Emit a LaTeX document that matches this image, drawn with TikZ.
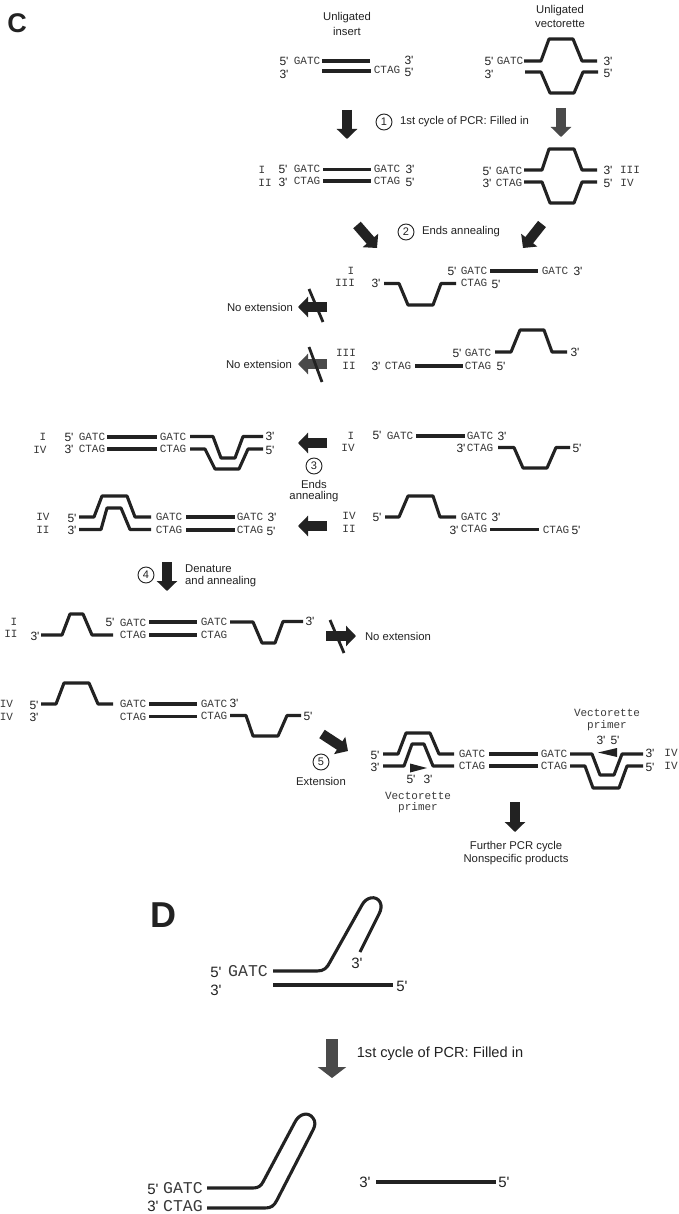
\documentclass[tikz,border=0pt]{standalone}
\usepackage{fontspec}
\usetikzlibrary{arrows.meta}
\newfontfamily\lsans{Liberation Sans}
\newfontfamily\lmono{Liberation Mono}
\definecolor{ink}{HTML}{222222}
\definecolor{monoink}{HTML}{3A3A3A}
\definecolor{midink}{HTML}{4A4A4A}
\newcounter{lab}
\tikzset{
  sans/.style={inner sep=0pt,text=ink,font=\lsans\fontsize{11.3}{13}\selectfont},
  prime/.style={inner sep=0pt,text=ink,font=\lsans\fontsize{12}{13}\selectfont},
  mono/.style={inner sep=0pt,text=monoink,font=\lmono\fontsize{11}{13}\selectfont},
  big/.style={inner sep=0pt,text=ink,font=\lsans\fontsize{14.6}{16}\selectfont},
  bigprime/.style={inner sep=0pt,text=ink,font=\lsans\fontsize{15}{16}\selectfont},
  bigmono/.style={inner sep=0pt,text=monoink,font=\lmono\fontsize{16.5}{18}\selectfont},
  panel/.style={inner sep=0pt,text=ink},
  numcirc/.style={circle,draw=ink,line width=0.9pt,minimum size=16pt,inner sep=0pt,text=ink,font=\lsans\fontsize{11}{13}\selectfont},
  strand/.style={draw=ink,line width=3.1pt,line join=round,line cap=butt},
  blockarrow/.style={draw=ink,line width=10pt,-{Triangle[length=10pt,width=20pt]}},
  greyarrow/.style={draw=midink,line width=10pt,-{Triangle[length=10pt,width=20pt]}},
  bigarrow/.style={draw=midink,line width=12.5pt,-{Triangle[length=11pt,width=28pt]}},
  crossout/.style={draw=ink,line width=2.8pt},
  primer/.style={fill=ink,draw=none}
}
\newcommand\T[4]{\stepcounter{lab}\node[#1] (t\thelab) at (#2,#3) {#4};}
\newcommand\SL[3]{\T{sans}{#1}{#2}{#3}}
\newcommand\PR[3]{\T{prime}{#1}{#2}{#3}}
\newcommand\MO[3]{\T{mono}{#1}{#2}{#3}}
\begin{document}
\begin{tikzpicture}[x=1pt,y=-1pt]
\useasboundingbox (0,0) rectangle (679,1214);
\fill[white] (0,0) rectangle (679,1214);

% Panel C
\node[panel,font=\lsans\bfseries\fontsize{27}{30}\selectfont] (panelC) at (17,23) {C};

% Unligated insert
\SL{347}{18}{Unligated}\SL{347}{31}{insert}
\PR{284}{61}{5'}\MO{307}{61}{GATC}\PR{409}{60}{3'}
\PR{284}{74}{3'}\MO{387}{70}{CTAG}\PR{409}{72}{5'}
\draw[strand] (322,61) -- (370,61);
\draw[strand] (322,71) -- (371,71);

% Unligated vectorette
\SL{560}{11}{Unligated}\SL{560}{24}{vectorette}
\PR{489}{61}{5'}\MO{510}{61}{GATC}\PR{608}{61}{3'}
\PR{489}{74}{3'}\PR{608}{73}{5'}
\draw[strand] (524,61) -- (541,61) -- (549,39) -- (573,39) -- (582,61) -- (597,61);
\draw[strand] (525,72) -- (541,72) -- (550,93) -- (574,93) -- (583,72) -- (598,72);

% Step 1
\draw[blockarrow] (347,110) -- (347,139);
\draw[greyarrow] (561,108) -- (561,137);
\node[numcirc] (c1) at (384,122) {1};
\SL{464.5}{122}{1st cycle of PCR: Filled in}

% Filled-in products
\MO{262}{170}{I}\MO{265}{183}{II}
\PR{283}{169}{5'}\MO{307}{169}{GATC}\MO{387}{169}{GATC}\PR{410}{169}{3'}
\PR{283}{182}{3'}\MO{307}{181}{CTAG}\MO{387}{181}{CTAG}\PR{410}{182}{5'}
\draw[strand] (323,169.5) -- (371,169.5);
\draw[strand] (323,181) -- (371,181);
\PR{487}{171}{5'}\MO{509}{171}{GATC}\PR{608}{170}{3'}\MO{630}{170}{III}
\PR{487}{183}{3'}\MO{509}{183}{CTAG}\PR{608}{183}{5'}\MO{627}{183}{IV}
\draw[strand] (524,170) -- (542,170) -- (549,149) -- (574,149) -- (582,170) -- (597,170);
\draw[strand] (524,182) -- (542,182) -- (550,203) -- (574,203) -- (582,182) -- (597,182);

% Step 2
\draw[blockarrow] (357,225) -- (377,248);
\draw[blockarrow] (542,224) -- (523,248);
\node[numcirc] (c2) at (406,232) {2};
\SL{461}{232}{Ends annealing}

% I / III
\MO{351}{271}{I}\MO{345}{283}{III}
\PR{376}{283}{3'}\MO{474}{283}{CTAG}\PR{496}{284}{5'}
\PR{452}{271}{5'}\MO{474}{271}{GATC}\MO{555}{271}{GATC}\PR{578}{271}{3'}
\draw[strand] (384,283.5) -- (399,283.5) -- (408,305) -- (433,305) -- (441,283.5) -- (456,283.5);
\draw[strand] (490,271) -- (538,271);
\SL{260}{307}{No extension}
\draw[blockarrow] (327,307) -- (298,307);
\draw[crossout] (309,289) -- (323,322);

% III / II
\MO{346}{353}{III}\MO{349}{366}{II}
\PR{376}{366}{3'}\MO{398}{366}{CTAG}\MO{478}{366}{CTAG}\PR{501}{366}{5'}
\PR{457}{353}{5'}\MO{478}{353}{GATC}\PR{575}{352}{3'}
\draw[strand] (415,366) -- (463,366);
\draw[strand] (495,352) -- (511,352) -- (520,330) -- (544,330) -- (552,352) -- (567,352);
\SL{259}{364}{No extension}
\draw[greyarrow] (327,364) -- (298,364);
\draw[crossout] (309,347) -- (322,382);

% Step 3 right I / IV
\MO{351}{436}{I}\MO{348}{448}{IV}
\PR{377}{435}{5'}\MO{400}{436}{GATC}\MO{480}{436}{GATC}\PR{502}{436}{3'}
\PR{461}{448}{3'}\MO{480}{448}{CTAG}\PR{577}{448}{5'}
\draw[strand] (416,436) -- (465,436);
\draw[strand] (498,447.5) -- (514,447.5) -- (523,468) -- (547,468) -- (556,447.5) -- (570,447.5);

% Step 3 left I / IV
\MO{43}{437}{I}\MO{40}{450}{IV}
\PR{69}{437}{5'}\MO{92}{437}{GATC}\MO{173}{437}{GATC}\PR{270}{436}{3'}
\PR{69}{449}{3'}\MO{92}{449}{CTAG}\MO{173}{449}{CTAG}\PR{270}{450}{5'}
\draw[strand] (107,437) -- (157,437);
\draw[strand] (107,449) -- (157,449);
\draw[strand] (190,436.5) -- (213,436.5) -- (221,458) -- (235,458) -- (243,436.5) -- (263,436.5);
\draw[strand] (190,449) -- (205,449) -- (215,469) -- (239,469) -- (248,449) -- (263,449);

\draw[blockarrow] (327,443) -- (298,443);
\node[numcirc] (c3) at (314,466) {3};
\SL{314}{484}{Ends}\SL{314}{497}{annealing}
\draw[blockarrow] (327,526) -- (298,526);

% Step 3 right IV / II
\MO{349}{516}{IV}\MO{349}{529}{II}
\PR{377}{517}{5'}\MO{474}{516.5}{GATC}\PR{496}{517}{3'}
\PR{454}{530}{3'}\MO{474}{529}{CTAG}\MO{556}{530}{CTAG}\PR{576}{530}{5'}
\draw[strand] (385,517) -- (399,517) -- (408,496) -- (433,496) -- (440,517) -- (456,517);
\draw[strand] (490,529.5) -- (539,529.5);

% Step 3 left IV / II
\MO{43}{517}{IV}\MO{43}{530}{II}
\PR{72}{518}{5'}\MO{169}{517}{GATC}\MO{250}{517}{GATC}\PR{272}{517}{3'}
\PR{72}{530}{3'}\MO{169}{530}{CTAG}\MO{250}{530}{CTAG}\PR{271}{531}{5'}
\draw[strand] (79,517) -- (94,517) -- (102,496) -- (127,496) -- (135,517) -- (151,517);
\draw[strand] (79,529.5) -- (101,529.5) -- (107,508) -- (121,508) -- (130,529.5) -- (151,529.5);
\draw[strand] (186,517) -- (235,517);
\draw[strand] (186,530) -- (235,530);

% Step 4
\node[numcirc] (c4) at (146,575) {4};
\draw[blockarrow] (167,562) -- (167,591);
\node[sans,anchor=west] (den1) at (185,569) {Denature};
\node[sans,anchor=west] (den2) at (185,582) {and annealing};

% I / II after denature
\MO{14}{622}{I}\MO{11}{634}{II}
\PR{35}{636}{3'}\PR{110}{622}{5'}\MO{133}{623}{GATC}\MO{133}{635}{CTAG}
\MO{214}{622}{GATC}\MO{214}{635}{CTAG}\PR{310}{621}{3'}
\draw[strand] (41,635) -- (62,635) -- (70,614) -- (83,614) -- (92,635) -- (113,635);
\draw[strand] (149,622) -- (197,622);
\draw[strand] (149,635) -- (197,635);
\draw[strand] (230,622) -- (253,622) -- (262,643) -- (275,643) -- (283,621.5) -- (303,621.5);
\draw[blockarrow] (326,636) -- (356,636);
\draw[crossout] (330,620) -- (344,653);
\SL{398}{636}{No extension}

% IV / IV after denature
\MO{6.5}{704}{IV}\MO{6.5}{717}{IV}
\PR{34}{705}{5'}\PR{34}{717}{3'}
\MO{133}{704}{GATC}\MO{214}{704}{GATC}\PR{234}{703}{3'}
\MO{133}{717}{CTAG}\MO{214}{716}{CTAG}\PR{308}{716}{5'}
\draw[strand] (41,704) -- (56,704) -- (64,683) -- (89,683) -- (98,704) -- (113,704);
\draw[strand] (149,704) -- (197,704);
\draw[strand] (149,716.5) -- (197,716.5);
\draw[strand] (230,715.5) -- (246,715.5) -- (253,736) -- (278,736) -- (287,715.5) -- (301,715.5);

% Step 5
\draw[blockarrow] (322,734) -- (348,751);
\node[numcirc] (c5) at (321,762) {5};
\SL{321}{781}{Extension}

% Extension product
\PR{375}{755}{5'}\PR{375}{767}{3'}
\MO{472}{754}{GATC}\MO{472}{766}{CTAG}\MO{554}{754}{GATC}\MO{554}{766}{CTAG}
\PR{650}{753}{3'}\PR{650}{767}{5'}\MO{671}{753}{IV}\MO{671}{766}{IV}
\draw[strand] (383,754) -- (398,754) -- (406,733) -- (430,733) -- (439,754) -- (454,754);
\draw[strand] (383,766) -- (404,766) -- (412,744) -- (424,744) -- (433,766) -- (454,766);
\draw[strand] (489,754) -- (538,754);
\draw[strand] (489,766) -- (538,766);
\draw[strand] (570,754) -- (592,754) -- (600,775) -- (614,775) -- (622,754) -- (643,754);
\draw[strand] (570,766) -- (585,766) -- (593,788) -- (619,788) -- (627,766) -- (643,766);
\fill[primer] (410,763.5) -- (427,768) -- (410,772.5) -- cycle;
\fill[primer] (617,748) -- (598,752.5) -- (617,757) -- cycle;
\PR{411}{779}{5'}\PR{428}{779}{3'}
\MO{418}{796}{Vectorette}\MO{418}{808}{primer}
\MO{607}{713}{Vectorette}\MO{607}{726}{primer}
\PR{601}{740}{3'}\PR{615}{740}{5'}
\draw[blockarrow] (515,802) -- (515,832);
\SL{516}{847}{Further PCR cycle}\SL{516}{860}{Nonspecific products}

% Panel D
\node[panel,font=\lsans\bfseries\fontsize{36}{40}\selectfont] (panelD) at (163,915) {D};
\T{bigprime}{216}{972}{5'}\T{bigmono}{248}{971}{GATC}\T{bigprime}{216}{990}{3'}
\T{bigprime}{357}{963}{3'}\T{bigprime}{402}{986}{5'}
\draw[strand] (273,971) -- (317,971) .. controls (324,971) and (327,968) .. (330,962) -- (362,905) .. controls (366,897) and (376,895) .. (380,902) .. controls (382,906) and (381,910) .. (379,914) -- (360,952);
\draw[strand] (273,985) -- (393,985);

\draw[bigarrow] (332,1039) -- (332,1078);
\T{big}{440}{1054}{1st cycle of PCR: Filled in}

\T{bigprime}{153}{1189}{5'}\T{bigmono}{183}{1188}{GATC}
\T{bigprime}{153}{1206}{3'}\T{bigmono}{183}{1206}{CTAG}
\draw[strand] (207,1188) -- (253,1188) .. controls (258,1188) and (261,1186) .. (263,1182) -- (295,1122) .. controls (299,1114) and (308,1111) .. (313,1118) .. controls (316,1122) and (315,1126) .. (313,1130) -- (277,1200) .. controls (274,1206) and (271,1208) .. (265,1208) -- (207,1208);
\T{bigprime}{365}{1182}{3'}\T{bigprime}{504}{1182}{5'}
\draw[strand] (376,1182) -- (496,1182);
\end{tikzpicture}
\end{document}
